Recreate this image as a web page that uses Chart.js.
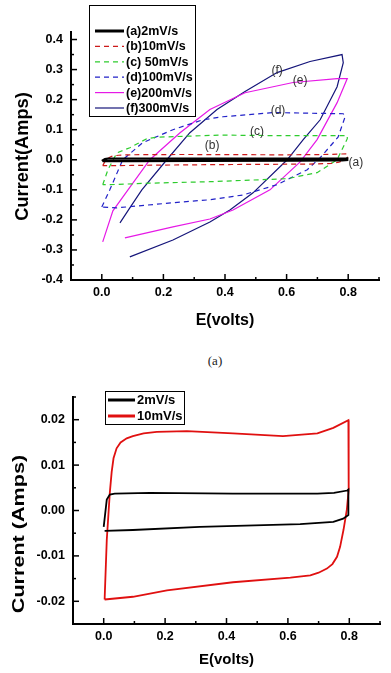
<!DOCTYPE html>
<html>
<head>
<meta charset="utf-8">
<script src="https://cdn.jsdelivr.net/npm/chart.js@4.4.0/dist/chart.umd.min.js"></script>
<style>
  html, body { margin: 0; padding: 0; background: #fff; }
  body { width: 391px; height: 673px; position: relative; overflow: hidden; }
  canvas { position: absolute; left: 0; }
  #cvTop { top: 0; }
  #cvBottom { top: 375px; }
  #caption { position: absolute; top: 353px; left: 195px; width: 40px; text-align: center;
             font-family: 'Liberation Serif', 'DejaVu Serif', serif; font-size: 13px; color: #222; }
</style>
</head>
<body>
<canvas id="cvTop" width="391" height="340"></canvas>
<div id="caption">(a)</div>
<canvas id="cvBottom" width="391" height="298"></canvas>
<script>
// cyclic voltammograms, [E (volts), current (amps)]
const cv2 = [[0.000,-0.0036],[0.010,0.0024],[0.020,0.0035],[0.036,0.0037],[0.150,0.0039],[0.421,0.0037],
  [0.696,0.0037],[0.750,0.0039],[0.793,0.0044],[0.797,0.0046],[0.797,-0.0010],[0.780,-0.0018],
  [0.748,-0.0025],[0.640,-0.0030],[0.313,-0.0036],[0.095,-0.0043],[0.003,-0.0045]];
const cv10 = [[0.003,-0.0196],[0.010,-0.0065],[0.020,0.0040],[0.026,0.0085],[0.032,0.0115],[0.042,0.0137],
  [0.055,0.0150],[0.075,0.0159],[0.095,0.0164],[0.130,0.0170],[0.173,0.0173],[0.271,0.0175],[0.421,0.0170],
  [0.584,0.0164],[0.696,0.0170],[0.748,0.0182],[0.797,0.0199],[0.798,0.0046],[0.792,0.0002],[0.781,-0.0043],
  [0.770,-0.0080],[0.760,-0.0102],[0.745,-0.0118],[0.727,-0.0128],[0.700,-0.0137],[0.673,-0.0143],
  [0.608,-0.0148],[0.421,-0.0158],[0.206,-0.0176],[0.095,-0.0190],[0.003,-0.0196]];
const cv50 = [[0.003,-0.083],[0.020,-0.033],[0.049,0.023],[0.091,0.040],[0.146,0.070],[0.179,0.075],[0.384,0.082],
  [0.600,0.080],[0.797,0.080],[0.797,0.070],[0.764,0.000],[0.699,-0.043],[0.602,-0.063],[0.351,-0.073],
  [0.150,-0.078],[0.026,-0.083],[0.003,-0.083]];
const cv100 = [[0.000,-0.157],[0.026,-0.100],[0.068,0.000],[0.133,0.057],[0.231,0.100],[0.328,0.133],[0.393,0.143],
  [0.556,0.157],[0.784,0.153],[0.790,0.143],[0.767,0.075],[0.709,0.007],[0.667,-0.033],[0.569,-0.083],
  [0.459,-0.117],[0.351,-0.133],[0.231,-0.143],[0.049,-0.160],[0.000,-0.157]];
const cv200 = [[0.003,-0.273],[0.036,-0.170],[0.085,-0.100],[0.156,0.000],[0.254,0.090],[0.351,0.167],
  [0.465,0.223],[0.621,0.257],[0.764,0.270],[0.797,0.270],[0.764,0.190],[0.699,0.067],[0.644,-0.007],
  [0.546,-0.100],[0.426,-0.167],[0.351,-0.197],[0.231,-0.223],[0.075,-0.260]];
const cv300 = [[0.059,-0.210],[0.091,-0.160],[0.130,-0.100],[0.211,0.000],[0.286,0.090],[0.374,0.167],
  [0.465,0.227],[0.569,0.290],[0.676,0.327],[0.780,0.350],[0.784,0.323],[0.764,0.243],[0.709,0.133],
  [0.654,0.067],[0.602,0.000],[0.491,-0.110],[0.416,-0.167],[0.351,-0.207],[0.231,-0.267],[0.091,-0.323]];

const topLabels = ['(a)2mV/s', '(b)10mV/s', '(c) 50mV/s', '(d)100mV/s', '(e)200mV/s', '(f)300mV/s'];
const bottomLabels = ['2mV/s', '10mV/s'];
const curveTags = ['(a)', '(b)', '(c)', '(d)', '(e)', '(f)'];

const eTicks = [0, 0.2, 0.4, 0.6, 0.8];
const eMinor = [0.1, 0.3, 0.5, 0.7, 0.9];
const topITicks = [-0.4, -0.3, -0.2, -0.1, 0, 0.1, 0.2, 0.3, 0.4];
const topIMinor = [-0.35, -0.25, -0.15, -0.05, 0.05, 0.15, 0.25, 0.35];
const botITicks = [-0.02, -0.01, 0, 0.01, 0.02];
const botIMinor = [-0.015, -0.005, 0.005, 0.015, 0.025];

const FONT = "'Liberation Sans', Arial, sans-serif";
Chart.defaults.font.family = FONT;
Chart.defaults.color = '#000';

const pts = arr => arr.map(([x, y]) => ({ x, y }));

// ticks pointing into the plot, like the original
const inwardTicks = {
  id: 'inwardTicks',
  afterDraw(chart, args, o) {
    const { ctx, chartArea: a, scales: { x, y } } = chart;
    ctx.save();
    ctx.strokeStyle = '#000';
    ctx.lineWidth = 1.5;
    const mark = (scale, values, len) => values.forEach(v => {
      const p = scale.getPixelForValue(v);
      ctx.beginPath();
      if (scale.isHorizontal()) { ctx.moveTo(p, a.bottom); ctx.lineTo(p, a.bottom - len); }
      else { ctx.moveTo(a.left, p); ctx.lineTo(a.left + len, p); }
      ctx.stroke();
    });
    mark(x, o.xMajor, 6); mark(x, o.xMinor, 3);
    mark(y, o.yMajor, 6); mark(y, o.yMinor, 3);
    ctx.restore();
  }
};

const boxLegend = {
  id: 'boxLegend',
  afterDraw(chart, args, o) {
    const ctx = chart.ctx;
    ctx.save();
    ctx.fillStyle = '#fff';
    ctx.fillRect(o.left, o.top, o.width, o.height);
    ctx.strokeStyle = '#000';
    ctx.lineWidth = 1;
    ctx.strokeRect(o.left + 0.5, o.top + 0.5, o.width, o.height);
    ctx.font = `bold ${o.size}px ${FONT}`;
    ctx.textBaseline = 'middle';
    ctx.textAlign = 'left';
    chart.data.datasets.forEach((ds, i) => {
      const y = o.firstRow + i * o.rowGap;
      ctx.strokeStyle = ds.borderColor;
      ctx.lineWidth = o.sampleWidth ? o.sampleWidth[i] : ds.borderWidth;
      ctx.setLineDash(ds.borderDash || []);
      ctx.beginPath();
      ctx.moveTo(o.x0, y); ctx.lineTo(o.x1, y);
      ctx.stroke();
      ctx.setLineDash([]);
      ctx.fillStyle = '#000';
      ctx.fillText(ds.label, o.textX, y + 0.5);
    });
    ctx.restore();
  }
};

// rotated y title, stretched along the text like the scan
const yTitle = {
  id: 'yTitle',
  afterDraw(chart, args, o) {
    const ctx = chart.ctx;
    ctx.save();
    ctx.fillStyle = '#000';
    ctx.font = `bold ${o.size}px ${FONT}`;
    ctx.textAlign = 'center';
    ctx.textBaseline = 'middle';
    ctx.translate(o.x, o.y);
    ctx.rotate(-Math.PI / 2);
    ctx.scale(o.stretch, 1);
    ctx.fillText(o.text, 0, 0);
    ctx.restore();
  }
};

const tagPlugin = {
  id: 'tags',
  afterDatasetsDraw(chart, args, o) {
    const { ctx, scales: { x, y } } = chart;
    ctx.save();
    ctx.fillStyle = '#333';
    ctx.font = `12px ${FONT}`;
    ctx.textAlign = 'center';
    ctx.textBaseline = 'middle';
    o.names.forEach((t, i) => ctx.fillText(t, x.getPixelForValue(o.at[i][0]), y.getPixelForValue(o.at[i][1])));
    ctx.restore();
  }
};

function axis(min, max, ticks, digits, fit, pad, title) {
  const s = {
    type: 'linear', min, max,
    afterBuildTicks: sc => { sc.ticks = ticks.map(v => ({ value: v })); },
    afterFit: fit,
    grid: { display: false, drawTicks: false },
    border: { color: '#000', width: 2 },
    ticks: { font: { size: 12.5, weight: 'bold' }, color: '#000', padding: pad, autoSkip: false, maxRotation: 0,
             callback: v => v.toFixed(digits) }
  };
  if (title) s.title = title;
  return s;
}

const line = (label, data, color, width, dash) => ({
  label, data: pts(data), borderColor: color, backgroundColor: color, borderWidth: width,
  borderDash: dash || [], showLine: true, pointRadius: 0, tension: 0, fill: false
});

new Chart(document.getElementById('cvTop'), {
  type: 'scatter',
  data: {
    datasets: [
      line(topLabels[0], cv2, '#000', 2.2),
      line(topLabels[1], cv10, '#cc1a1a', 1.2, [5, 4]),
      line(topLabels[2], cv50, '#2ecc2e', 1.2, [5, 4]),
      line(topLabels[3], cv100, '#2222c8', 1.2, [5, 4]),
      line(topLabels[4], cv200, '#e619e6', 1.2),
      line(topLabels[5], cv300, '#15157a', 1.2)
    ]
  },
  options: {
    responsive: false, animation: false,
    layout: { padding: { top: 32, right: 12, left: 0, bottom: 0 } },
    plugins: {
      legend: { display: false }, tooltip: { enabled: false },
      inwardTicks: { xMajor: eTicks, xMinor: eMinor, yMajor: topITicks, yMinor: topIMinor },
      boxLegend: { left: 89, top: 5, width: 106, height: 111, size: 12.5, firstRow: 31, rowGap: 15.4,
                   x0: 95, x1: 124, textX: 126, sampleWidth: [3, 1.2, 1.2, 1.2, 1.2, 1.2] },
      yTitle: { text: 'Current(Amps)', size: 17.5, stretch: 1.04, x: 23, y: 156.5 },
      tags: { names: curveTags,
              at: [[0.825, -0.01], [0.358, 0.047], [0.504, 0.093], [0.572, 0.163], [0.644, 0.263], [0.569, 0.297]] }
    },
    scales: {
      x: axis(-0.1, 0.9, eTicks, 1, s => { s.height = 60; }, 5,
              { display: true, text: 'E(volts)', font: { size: 16, weight: 'bold' }, color: '#000',
                padding: { top: 0, bottom: 10 } }),
      y: axis(-0.4, 0.425, topITicks, 1, s => { s.width = 71; }, 8)
    }
  },
  plugins: [inwardTicks, boxLegend, yTitle, tagPlugin]
});

new Chart(document.getElementById('cvBottom'), {
  type: 'scatter',
  data: {
    datasets: [
      line(bottomLabels[0], cv2, '#000', 1.8),
      line(bottomLabels[1], cv10, '#e01010', 1.8)
    ]
  },
  options: {
    responsive: false, animation: false,
    layout: { padding: { top: 22, right: 11, left: 0, bottom: 0 } },
    plugins: {
      legend: { display: false }, tooltip: { enabled: false },
      inwardTicks: { xMajor: eTicks, xMinor: eMinor, yMajor: botITicks, yMinor: botIMinor },
      boxLegend: { left: 105, top: 16, width: 79, height: 33, size: 13, firstRow: 25, rowGap: 16,
                   x0: 108, x1: 135, textX: 137, sampleWidth: [3, 3] },
      yTitle: { text: 'Current (Amps)', size: 16, stretch: 1.35, x: 20, y: 159 }
    },
    scales: {
      x: axis(-0.1, 0.9, eTicks, 1, s => { s.height = 49; }, 5,
              { display: true, text: 'E(volts)', font: { size: 15, weight: 'bold' }, color: '#000',
                padding: { top: 0, bottom: 4.5 } }),
      y: axis(-0.025, 0.025, botITicks, 2, s => { s.width = 73; }, 8)
    }
  },
  plugins: [inwardTicks, boxLegend, yTitle]
});
</script>
</body>
</html>
